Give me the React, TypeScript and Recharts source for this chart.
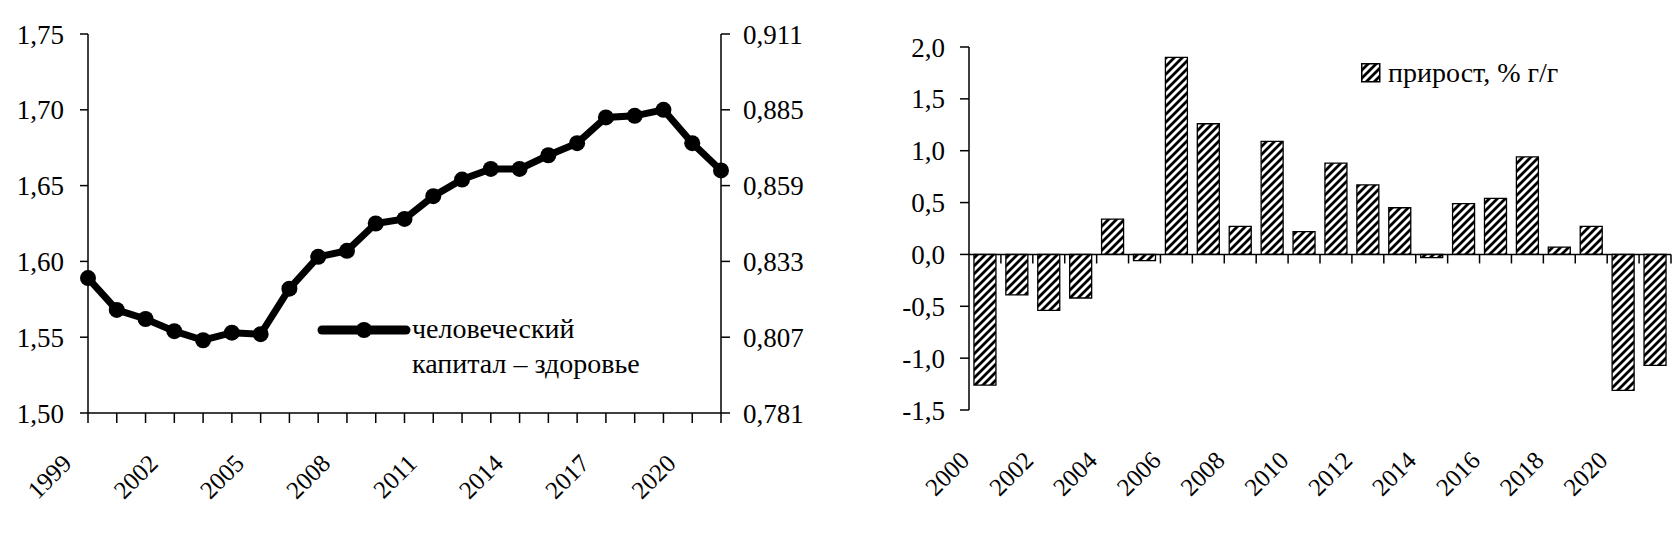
import React from 'react';
import {
  LineChart, Line, BarChart, Bar, XAxis, YAxis, ReferenceLine, Legend,
} from 'recharts';

// ---- data ----
const years = ['1999','2000','2001','2002','2003','2004','2005','2006','2007','2008','2009','2010','2011','2012','2013','2014','2015','2016','2017','2018','2019','2020','2021'];
const healthCapital = [1.589,1.568,1.562,1.554,1.548,1.553,1.552,1.582,1.603,1.607,1.625,1.628,1.643,1.654,1.661,1.661,1.670,1.678,1.695,1.696,1.700,1.678,1.660];
const leftTicks = [1.5,1.55,1.6,1.65,1.7,1.75];
const rightTicks = [0.781,0.807,0.833,0.859,0.885,0.911];
const lineSeriesName = 'человеческий капитал – здоровье';

const growthYears = ['2000','2001','2002','2003','2004','2005','2006','2007','2008','2009','2010','2011','2012','2013','2014','2015','2016','2017','2018','2019','2020','2021'];
const growthPct = [-1.26,-0.39,-0.54,-0.42,0.34,-0.06,1.90,1.26,0.27,1.09,0.22,0.88,0.67,0.45,-0.03,0.49,0.54,0.94,0.07,0.27,-1.31,-1.07];
const growthTicks = [-1.5,-1.0,-0.5,0,0.5,1.0,1.5,2.0];
const barSeriesName = 'прирост, % г/г';

const lineData = years.map((y, i) => ({ year: y, value: healthCapital[i] }));
const barData = growthYears.map((y, i) => ({ year: y, value: growthPct[i] }));

const FONT = 'Liberation Serif, Tinos, Times New Roman, DejaVu Serif, Noto Serif, serif';
const AXIS_FS = 27;
const XLAB_FS = 25;
const LEG_FS = 28;

const fmt = (d: number) => (v: number) => {
  const s = Math.abs(v).toFixed(d).replace('.', ',');
  return v < -1e-9 ? '-' + s : s;
};

const LeftXTick = (props: any) => {
  const { x, y, payload, index } = props;
  if (index % 3 !== 0) return null;
  const ax = x - 15;
  const ay = y + 42;
  return (
    <text x={ax} y={ay} transform={`rotate(-45 ${ax} ${ay})`} textAnchor="end"
      style={{ fontFamily: FONT }} fontSize={XLAB_FS} fill="#000">{payload.value}</text>
  );
};

const RightXTick = (props: any) => {
  const { x, y, payload } = props;
  const ax = x - 14;
  const ay = y + 52;
  return (
    <text x={ax} y={ay} transform={`rotate(-45 ${ax} ${ay})`} textAnchor="end"
      style={{ fontFamily: FONT }} fontSize={XLAB_FS} fill="#000">{payload.value}</text>
  );
};

const LineLegend = (props: any) => {
  const { payload } = props;
  const name: string = (payload && payload[0] && payload[0].value) || lineSeriesName;
  const idx = name.indexOf(' ');
  const l1 = name.slice(0, idx);
  const l2 = name.slice(idx + 1);
  return (
    <div style={{ display: 'flex', alignItems: 'flex-start', fontFamily: FONT, fontSize: LEG_FS, lineHeight: '35px', color: '#000' }}>
      <svg width={96} height={30} style={{ marginTop: 4 }}>
        <line x1={6} y1={15} x2={90} y2={15} stroke="#000" strokeWidth={9} strokeLinecap="round" />
        <circle cx={48} cy={15} r={8} fill="#000" />
      </svg>
      <div style={{ whiteSpace: 'nowrap' }}>
        <div>{l1}</div>
        <div>{l2}</div>
      </div>
    </div>
  );
};

const HatchDefs = ({ id }: { id: string }) => (
  <defs>
    <pattern id={id} patternUnits="userSpaceOnUse" width={8} height={8}>
      <rect x={0} y={0} width={8} height={8} fill="#fff" />
      <path d="M-1,9 L9,-1 M-3,3 L3,-3 M5,11 L11,5" stroke="#000" strokeWidth={2.8} />
    </pattern>
  </defs>
);

const BarLegend = (props: any) => {
  const { payload } = props;
  const name: string = (payload && payload[0] && payload[0].value) || barSeriesName;
  return (
    <div style={{ display: 'flex', alignItems: 'center', fontFamily: FONT, fontSize: LEG_FS, color: '#000', whiteSpace: 'nowrap' }}>
      <svg width={20} height={20} style={{ marginRight: 7 }}>
        <HatchDefs id="hatchLegend" />
        <rect x={0.75} y={0.75} width={18} height={18} fill="url(#hatchLegend)" stroke="#000" strokeWidth={1.5} />
      </svg>
      <span>{name}</span>
    </div>
  );
};

const axisTick = { fontFamily: FONT, fontSize: AXIS_FS, fill: '#000', style: { fontFamily: FONT } };

export default function App() {
  return (
    <div style={{ position: 'absolute', left: 0, top: 0, width: 1677, height: 538, background: '#fff', overflow: 'hidden', fontFamily: FONT }}>
      <div style={{ position: 'absolute', left: 0, top: 0 }}>
        <LineChart width={840} height={538} data={lineData} margin={{ top: 34, right: 39, bottom: 0, left: 0 }}>
          <XAxis dataKey="year" interval={0} height={125} tickSize={10} tickMargin={0}
            axisLine={{ stroke: '#000', strokeWidth: 1.5 }} tickLine={{ stroke: '#000', strokeWidth: 1.5 }}
            tick={<LeftXTick />} />
          <YAxis yAxisId="left" orientation="left" width={88} domain={[1.5, 1.75]} ticks={leftTicks}
            tickFormatter={fmt(2)} tickSize={8} tickMargin={16}
            axisLine={{ stroke: '#000', strokeWidth: 1.5 }} tickLine={{ stroke: '#000', strokeWidth: 1.5 }}
            tick={axisTick} allowDataOverflow />
          <YAxis yAxisId="right" orientation="right" width={80} domain={[0.781, 0.911]} ticks={rightTicks}
            tickFormatter={fmt(3)} tickSize={9} tickMargin={13}
            axisLine={{ stroke: '#000', strokeWidth: 1.5 }} tickLine={{ stroke: '#000', strokeWidth: 1.5 }}
            tick={{ ...axisTick, textAnchor: 'start' }} allowDataOverflow />
          <Legend layout="horizontal" verticalAlign="middle" align="center"
            wrapperStyle={{ position: 'absolute', left: 316, top: 311, width: 420 }}
            content={<LineLegend />} />
          <Line yAxisId="left" type="linear" dataKey="value" name={lineSeriesName} stroke="#000" strokeWidth={7}
            dot={{ r: 8, fill: '#000', stroke: '#000', strokeWidth: 0 }} activeDot={false} isAnimationActive={false} />
        </LineChart>
      </div>
      <div style={{ position: 'absolute', left: 840, top: 0 }}>
        <BarChart width={837} height={538} data={barData} margin={{ top: 47, right: 6, bottom: 0, left: 0 }}
          barCategoryGap="15.5%">
          <HatchDefs id="hatchBar" />
          <XAxis dataKey="year" interval={1} height={128} tickSize={0} tickMargin={0}
            axisLine={false} tickLine={false} tick={<RightXTick />} />
          <YAxis width={129} domain={[-1.5, 2]} ticks={growthTicks} tickFormatter={fmt(1)}
            tickSize={9} tickMargin={15}
            axisLine={{ stroke: '#000', strokeWidth: 1.5 }} tickLine={{ stroke: '#000', strokeWidth: 1.5 }}
            tick={axisTick} allowDataOverflow />
          <Legend layout="horizontal" verticalAlign="middle" align="center"
            wrapperStyle={{ position: 'absolute', left: 521, top: 57 }}
            content={<BarLegend />} />
          <Bar dataKey="value" name={barSeriesName} fill="url(#hatchBar)" stroke="#000" strokeWidth={1.3}
            isAnimationActive={false} />
          <ReferenceLine y={0} stroke="#000" strokeWidth={1.5} />
          {growthYears.map((yr, i) => (i === 0 ? null : (
            <ReferenceLine key={'t' + yr} segment={[{ x: yr, y: 0 }, { x: yr, y: -0.087 }]}
              position="start" stroke="#000" strokeWidth={1.5} />
          )))}
          <ReferenceLine segment={[{ x: growthYears[growthYears.length - 1], y: 0 }, { x: growthYears[growthYears.length - 1], y: -0.087 }]}
            position="end" stroke="#000" strokeWidth={1.5} />
        </BarChart>
      </div>
    </div>
  );
}
